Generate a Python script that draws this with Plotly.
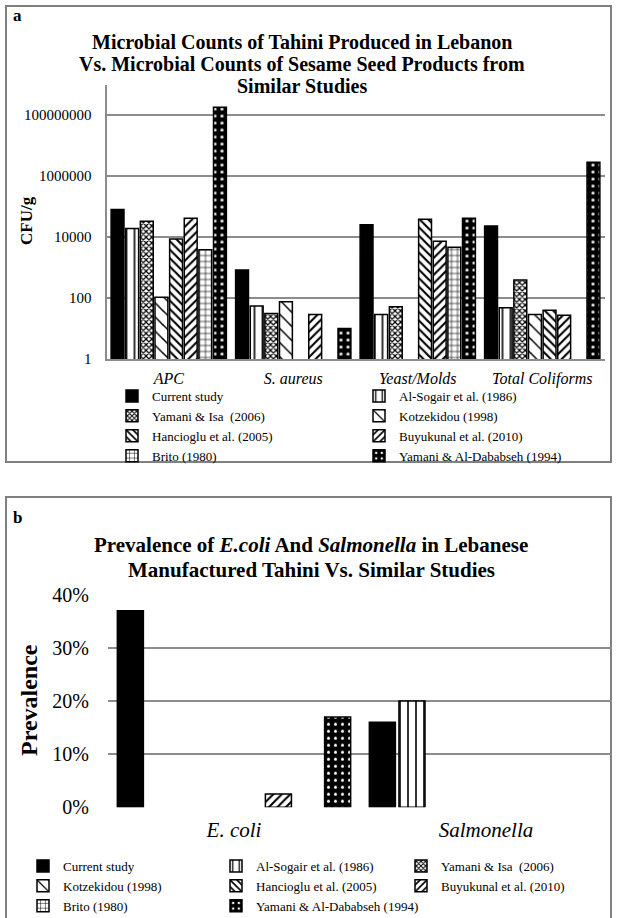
import plotly.graph_objects as go

# ---------------- data ----------------
series_names = ["Current study", "Al-Sogair et al. (1986)", "Yamani & Isa  (2006)",
                "Kotzekidou (1998)", "Hancioglu et al. (2005)", "Buyukunal et al. (2010)",
                "Brito (1980)", "Yamani & Al-Dababseh (1994)"]

micro_categories = ["APC", "S. aureus", "Yeast/Molds", "Total Coliforms"]
micro_current = [80000, 830, 25000, 23000]
micro_al_sogair = [19000, 55, 29, 48]
micro_yamani_isa = [33000, 31, 52, 390]
micro_kotzekidou = [105, 76, None, 29]
micro_hancioglu = [8600, None, 38000, 40]
micro_buyukunal = [41000, 29, 7200, 27]
micro_brito = [3800, None, 4600, None]
micro_yamani_dababseh = [180000000, 10, 41000, 2800000]

micro_tickvals = [1, 100, 10000, 1000000, 100000000]
micro_ticktext = ["1", "100", "10000", "1000000", "100000000"]

prev_categories = ["E. coli", "Salmonella"]
prev_current = [0.37, 0.16]
prev_al_sogair = [None, 0.20]
prev_yamani_isa = [None, None]
prev_kotzekidou = [None, None]
prev_hancioglu = [None, None]
prev_buyukunal = [0.025, None]
prev_brito = [None, None]
prev_yamani_dababseh = [0.17, None]

prev_tickvals = [0, 0.1, 0.2, 0.3, 0.4]

micro_series = [micro_current, micro_al_sogair, micro_yamani_isa, micro_kotzekidou,
                micro_hancioglu, micro_buyukunal, micro_brito, micro_yamani_dababseh]
prev_series = [prev_current, prev_al_sogair, prev_yamani_isa, prev_kotzekidou,
               prev_hancioglu, prev_buyukunal, prev_brito, prev_yamani_dababseh]

# ---------------- styles ----------------
W, H = 617, 918
FONT = "Liberation Serif"
GRID = "#8c8c8c"

styles = [
    dict(bg="black", fg="black", shape="", size=8, sol=0.3),
    dict(bg="white", fg="black", shape="|", size=8, sol=0.2),
    dict(bg="white", fg="black", shape="x", size=4, sol=0.5),
    dict(bg="white", fg="black", shape="\\", size=10, sol=0.15),
    dict(bg="white", fg="black", shape="\\", size=6, sol=0.35),
    dict(bg="white", fg="black", shape="/", size=6, sol=0.35),
    dict(bg="white", fg="black", shape="+", size=6, sol=0.2),
    dict(bg="black", fg="white", shape=".", size=7, sol=0.15),
]


def marker_for(st):
    return dict(color=st["bg"],
                line=dict(color="black", width=1.5),
                pattern=dict(shape=st["shape"], fgcolor=st["fg"], bgcolor=st["bg"],
                             size=st["size"], solidity=st["sol"], fillmode="replace"))


def px_y(p):
    return 1 - p / H


def px_x(p):
    return p / W


fig = go.Figure()

top_legends = ["legend", "legend2"]
for i, (name, vals) in enumerate(zip(series_names, micro_series)):
    fig.add_trace(go.Bar(x=micro_categories, y=vals, name=name,
                         marker=marker_for(styles[i]),
                         xaxis="x", yaxis="y", legend=top_legends[i % 2]))

bottom_legends = ["legend3", "legend4", "legend5"]
for i, (name, vals) in enumerate(zip(series_names, prev_series)):
    fig.add_trace(go.Bar(x=prev_categories, y=vals, name=name,
                         marker=marker_for(styles[i]),
                         xaxis="x2", yaxis="y2", legend=bottom_legends[i % 3]))

legend_font = dict(family=FONT, size=13, color="black")


def leg(xpx, ypx):
    return dict(x=px_x(xpx), y=px_y(ypx), xanchor="left", yanchor="top",
                orientation="v", font=legend_font, bgcolor="rgba(0,0,0,0)",
                borderwidth=0, itemclick=False)


fig.update_layout(
    width=W, height=H,
    margin=dict(l=0, r=0, t=0, b=0, autoexpand=False),
    paper_bgcolor="white", plot_bgcolor="white",
    barmode="group", bargap=0.06, bargroupgap=0.12,
    font=dict(family=FONT, color="black"),
    legend=leg(112, 381),
    legend2=leg(359, 381),
    legend3=leg(23, 851),
    legend4=leg(216, 851),
    legend5=leg(401, 851),
    xaxis=dict(domain=[px_x(106.5), px_x(604.5)], anchor="y",
               showline=True, linecolor=GRID, linewidth=2, ticks="",
               showgrid=False,
               tickfont=dict(family=FONT, size=16, color="black", style="italic"),
               ticklabelstandoff=4),
    yaxis=dict(domain=[px_y(359), px_y(84.5)], anchor="x", type="log",
               range=[0, 9], tickvals=micro_tickvals, ticktext=micro_ticktext,
               showline=True, linecolor=GRID, linewidth=2,
               showgrid=True, gridcolor=GRID, gridwidth=1.5, zeroline=False,
               ticks="", tickfont=dict(family=FONT, size=15, color="black"),
               ticklabelstandoff=10),
    xaxis2=dict(domain=[px_x(108), px_x(612)], anchor="y2",
                showline=False, ticks="", showgrid=False,
                tickfont=dict(family=FONT, size=21, color="black", style="italic"),
                ticklabelstandoff=8),
    yaxis2=dict(domain=[px_y(807.3), px_y(594.7)], anchor="x2",
                range=[0, 0.4], tickvals=prev_tickvals, tickformat=".0%",
                showline=False, showgrid=True, gridcolor=GRID, gridwidth=1.5,
                zeroline=False, ticks="",
                tickfont=dict(family=FONT, size=20, color="black"),
                ticklabelstandoff=18),
)

# panel borders
fig.add_shape(type="rect", xref="paper", yref="paper",
              x0=px_x(6), x1=px_x(611), y0=px_y(462), y1=px_y(6),
              line=dict(color="#808080", width=2), fillcolor="rgba(0,0,0,0)", layer="below")
fig.add_shape(type="rect", xref="paper", yref="paper",
              x0=px_x(6), x1=px_x(611), y0=px_y(930), y1=px_y(497),
              line=dict(color="#808080", width=2), fillcolor="rgba(0,0,0,0)", layer="below")

ann_common = dict(xref="paper", yref="paper", showarrow=False)


def text_at(txt, xpx, ypx, size, xanchor="center", angle=0):
    fig.add_annotation(text=txt, x=px_x(xpx), y=px_y(ypx), xanchor=xanchor,
                       yanchor="middle", textangle=angle,
                       font=dict(family=FONT, size=size, color="black"), **ann_common)


text_at("<b>a</b>", 11, 15, 17, xanchor="left")
text_at("<b>Microbial Counts of Tahini Produced in Lebanon</b>", 302, 42, 20)
text_at("<b>Vs. Microbial Counts of Sesame Seed Products from</b>", 302, 64, 20)
text_at("<b>Similar Studies</b>", 302, 86, 20)
text_at("<b>CFU/g</b>", 27, 221, 17, angle=-90)

text_at("<b>b</b>", 11, 517, 17, xanchor="left")
text_at("<b>Prevalence of <i>E.coli</i> And <i>Salmonella</i> in Lebanese</b>", 311, 545, 21)
text_at("<b>Manufactured Tahini Vs. Similar Studies</b>", 311, 570, 21)
text_at("<b>Prevalence</b>", 29, 700, 24, angle=-90)

fig.write_html("out.html", config={"displayModeBar": False},
               post_script="document.body.style.margin='0';")
